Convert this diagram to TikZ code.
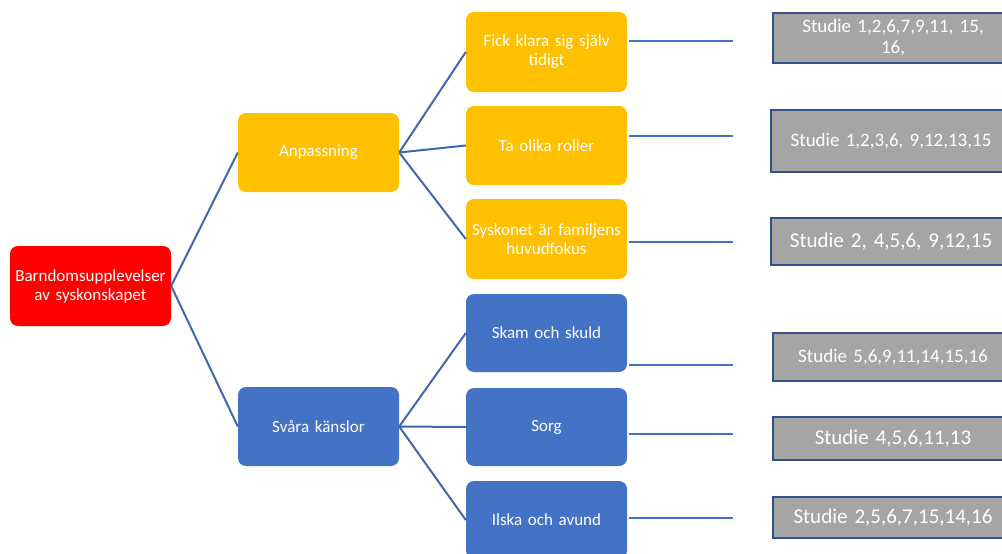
\documentclass[tikz,border=0pt]{standalone}
\usepackage{fontspec}
\setmainfont{Carlito}
\definecolor{cred}{HTML}{FF0000}
\definecolor{cgold}{HTML}{FFC000}
\definecolor{cblue}{HTML}{4472C4}
\definecolor{cgray}{HTML}{A5A5A5}
\definecolor{cborder}{HTML}{2F528F}
\definecolor{cline}{HTML}{4067B0}
\begin{document}
\begin{tikzpicture}[x=1pt,y=-1pt,
  box/.style={rectangle, rounded corners=8pt, inner sep=2pt, minimum width=161pt,
    text width=157pt, align=center, text=white,
    font=\fontsize{17}{19}\selectfont},
  rootbox/.style={box, fill=cred, minimum height=80pt},
  goldbox/.style={box, fill=cgold, minimum height=79pt},
  bluebox/.style={box, fill=cblue, minimum height=78pt},
  graybox/.style={rectangle, fill=cgray, draw=cborder, line width=2pt, inner sep=2pt,
    minimum width=240pt, text width=236pt, align=center, text=white},
  gsmall/.style={font=\fontsize{19}{21}\selectfont},
  glarge/.style={font=\fontsize{21}{23}\selectfont},
  conn/.style={draw=cline, line width=2pt},
  hline/.style={draw=cblue, line width=1.3pt}]
\useasboundingbox (0,0) rectangle (1002,554);
\clip (0,0) rectangle (1002,554);

% nodes
\node[rootbox] (root) at (90.5,286) {Barndomsupplevelser\\av syskonskapet};
\node[goldbox] (anp) at (318.5,152.5) {Anpassning};
\node[bluebox, minimum height=79pt] (sva) at (318.5,426.5) {Svåra känslor};

\node[goldbox, minimum height=80pt] (fick) at (546.5,52) {Fick klara sig själv\\tidigt};
\node[goldbox] (ta) at (546.5,145.5) {Ta olika roller};
\node[goldbox, minimum height=80pt] (sysk) at (546.5,239) {Syskonet är familjens\\huvudfokus};
\node[bluebox] (skam) at (546.5,333) {Skam och skuld};
\node[bluebox] (sorg) at (546.5,427) {Sorg};
\node[bluebox] (ilska) at (546.5,520) {Ilska och avund};

\node[graybox, gsmall, minimum height=50pt] (g1) at (893,38) {Studie 1,2,6,7,9,11, 15,\\16,};
\node[graybox, gsmall, minimum height=62pt] (g2) at (891,141) {Studie 1,2,3,6, 9,12,13,15};
\node[graybox, glarge, minimum height=47pt] (g3) at (891,241.5) {Studie 2, 4,5,6, 9,12,15};
\node[graybox, gsmall, minimum height=48pt] (g4) at (893,357) {Studie 5,6,9,11,14,15,16};
\node[graybox, glarge, minimum height=43pt] (g5) at (893,438.5) {Studie 4,5,6,11,13};
\node[graybox, glarge, minimum height=41pt] (g6) at (893,517.5) {Studie 2,5,6,7,15,14,16};

% connectors
\draw[conn] (root.east) -- (anp.west);
\draw[conn] (root.east) -- (sva.west);
\draw[conn] (anp.east) -- (fick.west);
\draw[conn] (anp.east) -- (ta.west);
\draw[conn] (anp.east) -- (sysk.west);
\draw[conn] (sva.east) -- (skam.west);
\draw[conn] (sva.east) -- (sorg.west);
\draw[conn] (sva.east) -- (ilska.west);

% horizontal free lines
\coordinate (h1a) at (629,41);  \coordinate (h1b) at (733,41);
\coordinate (h2a) at (629,136); \coordinate (h2b) at (733,136);
\coordinate (h3a) at (629,242); \coordinate (h3b) at (733,242);
\coordinate (h4a) at (629,365); \coordinate (h4b) at (733,365);
\coordinate (h5a) at (629,434); \coordinate (h5b) at (733,434);
\coordinate (h6a) at (629,518); \coordinate (h6b) at (733,518);
\draw[hline] (h1a) -- (h1b);
\draw[hline] (h2a) -- (h2b);
\draw[hline] (h3a) -- (h3b);
\draw[hline] (h4a) -- (h4b);
\draw[hline] (h5a) -- (h5b);
\draw[hline] (h6a) -- (h6b);
\end{tikzpicture}
\end{document}
